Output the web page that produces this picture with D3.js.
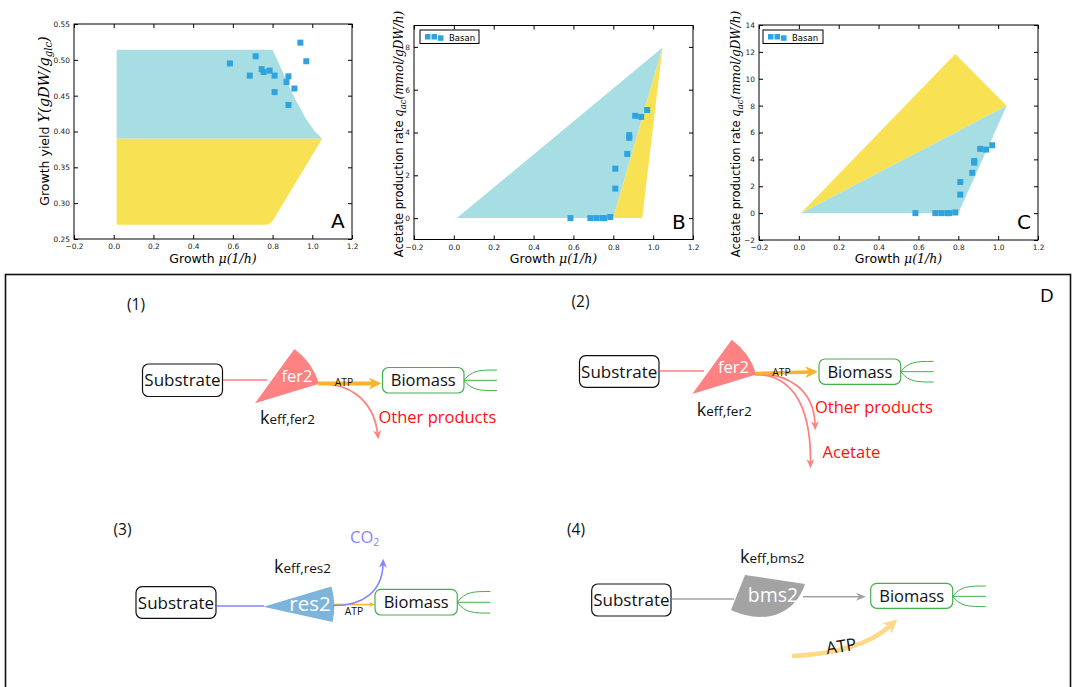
<!DOCTYPE html>
<html>
<head>
<meta charset="utf-8">
<script src="https://cdn.jsdelivr.net/npm/d3@7"></script>
<style>
body { margin: 0; background: #fff; }
</style>
</head>
<body>
<svg id="fig" width="1072" height="687"></svg>
<script>
// DATA

// Basan measurements (same growth rates in every panel)
var growthRate = [0.585, 0.685, 0.715, 0.745, 0.755, 0.785, 0.81, 0.81, 0.87, 0.88, 0.88, 0.91, 0.94, 0.97];
var growthYield = [0.495, 0.478, 0.505, 0.487, 0.483, 0.485, 0.478, 0.455, 0.469, 0.477, 0.437, 0.460, 0.524, 0.498];
var acetateRate = [0, 0, 0, 0, 0, 0.05, 1.38, 2.31, 3.0, 3.75, 3.88, 4.78, 4.73, 5.05];

// feasible regions, [growth, value] corners
var yieldRespRegion = [[0.015, 0.514], [0.80, 0.514], [0.84, 0.490], [0.88, 0.465], [0.92, 0.442], [0.967, 0.418], [1.01, 0.401], [1.05, 0.39], [0.015, 0.39]];
var yieldFermRegion = [[0.015, 0.39], [1.05, 0.39], [0.80, 0.275], [0.775, 0.27], [0.015, 0.27]];
var acetateRespB = [[0.015, 0], [1.047, 7.97], [0.80, 0]];
var acetateFermB = [[0.80, 0], [1.047, 7.97], [0.945, 0]];
var acetateFermC = [[0.01, 0], [0.785, 11.85], [1.043, 8.0]];
var acetateRespC = [[0.01, 0], [1.043, 8.0], [0.80, 0]];

// tick labels
var growthTicks = [-0.2, 0.0, 0.2, 0.4, 0.6, 0.8, 1.0, 1.2];
var yieldTicks = [0.25, 0.30, 0.35, 0.40, 0.45, 0.50, 0.55];
var acetateTicksB = [0, 2, 4, 6, 8];
var acetateTicksC = [-2, 0, 2, 4, 6, 8, 10, 12, 14];

var legendLabel = "Basan";

var cyan = "#a6dee4";
var yellow = "#f9e154";
var dotColor = "#2ea3df";

var svg = d3.select("#fig");
var defs = svg.append("defs");

//SCATTER PANELS

function drawPanel(p) {
    var g = svg.append("g");
    var x = d3.scaleLinear().domain([-0.2, 1.2]).range([p.left, p.right]);
    var y = d3.scaleLinear().domain(p.yDomain).range([p.bottom, p.top]);

    //regions
    p.regions.forEach(function(r) {
        g.append("path")
            .attr("d", d3.line().x(function(d) { return x(d[0]); }).y(function(d) { return y(d[1]); })(r.pts) + "Z")
            .attr("fill", r.color);
    });

    //points
    g.append("g").selectAll("rect")
        .data(growthRate)
        .enter().append("rect")
        .attr("x", function(d) { return x(d) - 3; })
        .attr("y", function(d, i) { return y(p.values[i]) - 3; })
        .attr("width", 6).attr("height", 6)
        .attr("fill", dotColor);

    //axes, ticks pointing inward on all four sides
    var fmtX = d3.format(".1f");
    var axes = [
        [d3.axisBottom(x).tickValues(growthTicks).tickFormat(fmtX), "translate(0," + p.bottom + ")", 5],
        [d3.axisTop(x).tickValues(growthTicks).tickFormat(""), "translate(0," + p.top + ")", 4],
        [d3.axisLeft(y).tickValues(p.yTicks).tickFormat(d3.format(p.yFmt)), "translate(" + p.left + ",0)", 4],
        [d3.axisRight(y).tickValues(p.yTicks).tickFormat(""), "translate(" + p.right + ",0)", 4]
    ];
    axes.forEach(function(a) {
        var ax = g.append("g").attr("transform", a[1])
            .call(a[0].tickSize(-4).tickPadding(a[2]));
        ax.select(".domain").remove();
        ax.selectAll("line").attr("stroke", "#000");
        ax.selectAll("text").attr("font-family", "DejaVu Sans").attr("font-size", 7.4).attr("fill", "#222");
    });

    g.append("rect")
        .attr("x", p.left).attr("y", p.top)
        .attr("width", p.right - p.left).attr("height", p.bottom - p.top)
        .attr("fill", "none").attr("stroke", "#000").attr("stroke-width", 1);

    //panel letter
    g.append("text")
        .attr("x", p.right - 21).attr("y", p.bottom - 11)
        .attr("font-family", "DejaVu Sans").attr("font-size", 20)
        .text(p.letter);

    var serif = function(t, size) { return t.attr("font-family", "DejaVu Serif").attr("font-style", "italic").attr("font-size", size); };

    //x label
    var xl = g.append("text")
        .attr("x", (p.left + p.right) / 2).attr("y", 262.5)
        .attr("text-anchor", "middle")
        .attr("font-family", "DejaVu Sans").attr("font-size", 12.5);
    xl.append("tspan").text("Growth ");
    serif(xl.append("tspan"), 12.5).text("\u03bc(1/h)");

    //y label
    var yl = g.append("text")
        .attr("transform", "translate(" + p.ylabelX + "," + p.ylabelY + ") rotate(-90)")
        .attr("text-anchor", "middle")
        .attr("font-family", "DejaVu Sans").attr("font-size", p.ylabelSize);
    yl.append("tspan").text(p.ylabel + "  ");
    serif(yl.append("tspan"), p.mathSize).text(p.mathA);
    serif(yl.append("tspan"), p.mathSize * 0.7).attr("dy", 3).text(p.mathSub);
    serif(yl.append("tspan"), p.mathSize).attr("dy", -3).text(p.mathB);

    //legend
    if (p.legend) {
        g.append("rect")
            .attr("x", p.left + p.legend[0]).attr("y", 30)
            .attr("width", p.legend[1]).attr("height", 13.5)
            .attr("fill", "#fff").attr("stroke", "#000").attr("stroke-width", 1);
        [[5, 0], [11.5, 0], [18, 1.3]].forEach(function(o) {
            g.append("rect")
                .attr("x", p.left + p.legend[0] + o[0]).attr("y", 34 + o[1])
                .attr("width", 5.5).attr("height", 5.5).attr("fill", dotColor);
        });
        g.append("text")
            .attr("x", p.left + p.legend[0] + 29).attr("y", 40.5)
            .attr("font-family", "DejaVu Sans").attr("font-size", 8.5)
            .text(legendLabel);
    }
}

drawPanel({left: 74, right: 352, top: 24, bottom: 239, yDomain: [0.25, 0.55], yTicks: yieldTicks, yFmt: ".2f",
    regions: [{pts: yieldRespRegion, color: cyan}, {pts: yieldFermRegion, color: yellow}],
    values: growthYield, letter: "A", ylabelX: 49, ylabelY: 121, ylabelSize: 12.5, mathSize: 14.5,
    ylabel: "Growth yield", mathA: "Y(gDW/g", mathSub: "glc", mathB: ")", legend: null});

drawPanel({left: 414, right: 693, top: 25.5, bottom: 239.5, yDomain: [-1, 9], yTicks: acetateTicksB, yFmt: "d",
    regions: [{pts: acetateRespB, color: cyan}, {pts: acetateFermB, color: yellow}],
    values: acetateRate, letter: "B", ylabelX: 403, ylabelY: 134, ylabelSize: 11.5, mathSize: 12,
    ylabel: "Acetate production rate", mathA: "q", mathSub: "ac", mathB: "(mmol/gDW/h)", legend: [6, 59]});

drawPanel({left: 759, right: 1038, top: 25, bottom: 240, yDomain: [-2, 14], yTicks: acetateTicksC, yFmt: "d",
    regions: [{pts: acetateFermC, color: yellow}, {pts: acetateRespC, color: cyan}],
    values: acetateRate, letter: "C", ylabelX: 740, ylabelY: 134, ylabelSize: 11.5, mathSize: 12,
    ylabel: "Acetate production rate", mathA: "q", mathSub: "ac", mathB: "(mmol/gDW/h)", legend: [4, 60]});

//PATHWAY DIAGRAMS (panel D)

var pathwayTitles = ["(1)", "(2)", "(3)", "(4)"];
var enzymeNames = ["fer2", "fer2", "res2", "bms2"];
var productNames = ["Other products", "Other products", "Acetate"];

var pink = "#ff8282";
var orange = "#fbb12c";
var green = "#43b04c";
var blue = "#7db4dc";
var lavender = "#8585ff";
var grey = "#a3a3a3";
var red = "#ff1010";
var font = "Open Sans";

var D = svg.append("g");

D.append("rect")
    .attr("x", 5.5).attr("y", 274.5).attr("width", 1065).attr("height", 440)
    .attr("fill", "none").attr("stroke", "#111").attr("stroke-width", 1.6);
D.append("text").attr("x", 1040).attr("y", 302)
    .attr("font-family", font).attr("font-size", 19).text("D");

//arrowhead markers
function addMarker(id, color, len, wid) {
    defs.append("marker")
        .attr("id", id)
        .attr("markerUnits", "userSpaceOnUse")
        .attr("markerWidth", len).attr("markerHeight", wid)
        .attr("refX", len * 0.3).attr("refY", wid / 2)
        .attr("orient", "auto")
        .append("path")
        .attr("d", "M0,0L" + len + "," + wid / 2 + "L0," + wid + "L" + len * 0.3 + "," + wid / 2 + "Z")
        .attr("fill", color);
}
addMarker("mOrange", orange, 13, 12);
addMarker("mOrangeS", orange, 6, 5);
addMarker("mPink", pink, 9, 8);
addMarker("mLav", lavender, 9, 8);
addMarker("mGrey", grey, 10, 8);
addMarker("mATP", "#ffd98a", 14, 14);

function label(x, y, txt, size, color, anchor) {
    return D.append("text").attr("x", x).attr("y", y)
        .attr("font-family", font).attr("font-size", size)
        .attr("fill", color || "#111")
        .attr("text-anchor", anchor || "start")
        .text(txt);
}

function box(x0, y0, x1, y1, stroke, txt, size) {
    D.append("rect").attr("x", x0).attr("y", y0)
        .attr("width", x1 - x0).attr("height", y1 - y0)
        .attr("rx", 6).attr("fill", "#fff")
        .attr("stroke", stroke).attr("stroke-width", 1.2);
    label((x0 + x1) / 2, (y0 + y1) / 2 + size * 0.36, txt, size, "#111", "middle");
}

//three little green lines fanning out of the biomass box
function fan(x, y, len, spread) {
    D.append("path")
        .attr("d", "M" + x + "," + y + "C" + (x + 8) + "," + (y - spread) + " " + (x + 16) + "," + (y - spread) + " " + (x + len) + "," + (y - spread) +
            "M" + x + "," + y + "L" + (x + len) + "," + y +
            "M" + x + "," + y + "C" + (x + 8) + "," + (y + spread) + " " + (x + 16) + "," + (y + spread) + " " + (x + len) + "," + (y + spread))
        .attr("fill", "none").attr("stroke", green).attr("stroke-width", 1);
}

function line(d, color, width, marker) {
    var l = D.append("path").attr("d", d)
        .attr("fill", "none").attr("stroke", color).attr("stroke-width", width);
    if (marker) l.attr("marker-end", "url(#" + marker + ")");
    return l;
}

function keff(x, y, sub) {
    var t = label(x, y, "", 18);
    t.append("tspan").text("k");
    t.append("tspan").attr("font-size", 13.5).text("eff," + sub);
}

var deg = Math.PI / 180;
function wedge(cx, cy, r, a0, a1, color) {
    D.append("path")
        .attr("transform", "translate(" + cx + "," + cy + ")")
        .attr("d", d3.arc()({innerRadius: 0, outerRadius: r, startAngle: a0 * deg, endAngle: a1 * deg}))
        .attr("fill", color);
}

// (1) fermentation
label(127, 310, pathwayTitles[0], 15.5);
box(142.5, 364, 222.5, 396.5, "#111", "Substrate", 17);
line("M223,380L267,380", pink, 1.6);
wedge(255, 403.3, 67, 36, 73, pink);
label(297, 381.5, enzymeNames[0], 16.5, "#fff", "middle");
line("M318,384C345,382 373,397 377.5,433", pink, 1.8, "mPink");
line("M318,383.5L372.5,383.5", orange, 4, "mOrange");
label(344, 385.5, "ATP", 10.3, "#111", "middle");
box(382.5, 367.5, 464, 393, green, "Biomass", 16.5);
fan(464, 380.3, 33, 10.3);
label(378.5, 422.5, productNames[0], 16.5, red);
keff(260, 424.3, "fer2");

// (2) fermentation with acetate
label(571.5, 307.3, pathwayTitles[1], 15.5);
box(579.5, 355.7, 659, 387.3, "#111", "Substrate", 17);
line("M660,371L704,371", pink, 1.6);
wedge(692.3, 394, 67, 36, 73, pink);
label(733.5, 372.7, enzymeNames[1], 16.5, "#fff", "middle");
line("M755,374.5C790,372 814,392 815,424", pink, 1.8, "mPink");
line("M755,374.5C788,374 811,400 810.5,462", pink, 1.8, "mPink");
line("M756,373.5L809,372", orange, 3.5, "mOrange");
label(781.5, 376, "ATP", 10.3, "#111", "middle");
box(819, 359, 900.7, 384.3, green, "Biomass", 16.5);
fan(900.7, 371.7, 33, 10.3);
label(815, 413.3, productNames[1], 16.5, red);
label(822.5, 458.3, productNames[2], 16.5, red);
keff(696.7, 415.7, "fer2");

// (3) respiration
label(113.5, 535, pathwayTitles[2], 15.5);
box(136, 586.7, 216, 618.3, "#111", "Substrate", 17);
line("M217,606L264,606", lavender, 1.6);
wedge(263.3, 606.7, 71, 73.5, 102.5, blue);
label(310, 611, enzymeNames[2], 20.5, "#fff", "middle");
line("M333,604.5L371,604.5", orange, 1.3, "mOrangeS");
line("M333,605.5C362,606 382,592 383,565", lavender, 1.6, "mLav");
label(354, 615, "ATP", 10.3, "#111", "middle");
box(375, 589.3, 457.3, 615, green, "Biomass", 16.5);
fan(457.3, 602.3, 33, 10.8);
var co2 = label(350, 542.7, "CO", 16.5, lavender);
co2.append("tspan").attr("font-size", 10.5).attr("dy", 3).text("2");
keff(274, 573.3, "res2");

// (4) biomass synthesis
label(567, 535, pathwayTitles[3], 15.5);
box(591.7, 584, 671, 616, "#111", "Substrate", 17);
line("M672,599L734,599", grey, 1.6);
D.append("path")
    .attr("d", "M745,575L805,584C798,605 782,617 760,617C750,617 740,614 731,610Z")
    .attr("fill", grey);
label(773, 601.7, enzymeNames[3], 19.5, "#fff", "middle");
line("M803,596.7L859,596.7", grey, 1.6, "mGrey");
box(870.7, 583.3, 952.7, 608.3, green, "Biomass", 16.5);
fan(952.7, 596.3, 33, 10.3);
line("M792,656C835,654 870,644 890,626", "#ffd98a", 4.5, "mATP");
label(842, 652, "ATP", 17, "#111", "middle")
    .attr("transform", "rotate(-9,842,652)");
keff(740, 562.7, "bms2");
</script>
</body>
</html>
